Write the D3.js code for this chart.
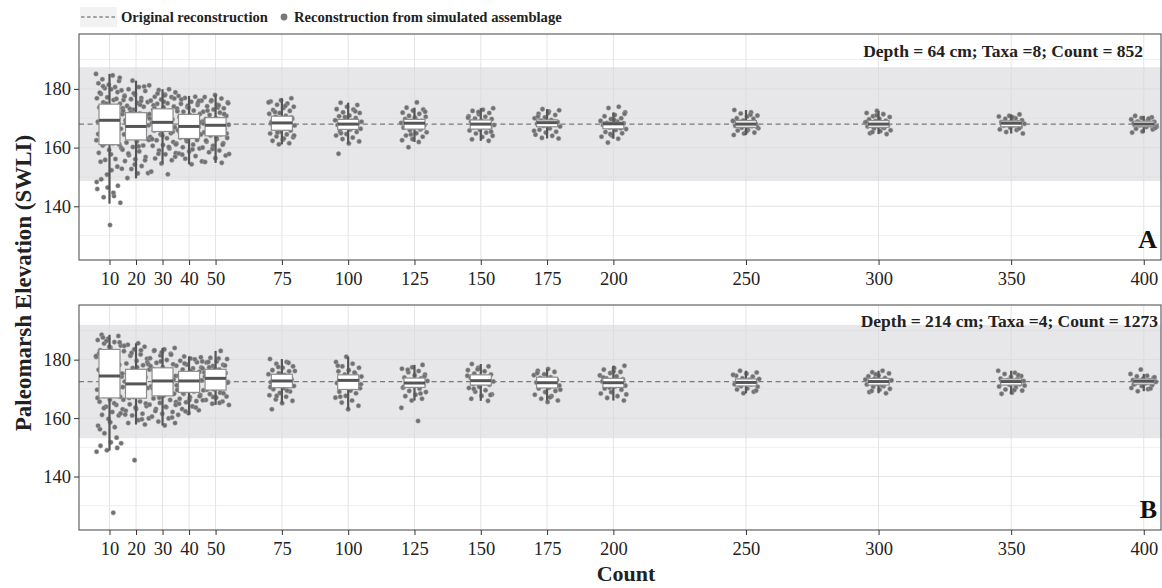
<!DOCTYPE html>
<html>
<head>
<meta charset="utf-8">
<script src="https://cdn.jsdelivr.net/npm/d3@7"></script>
<style>
  html, body { margin: 0; padding: 0; background: #ffffff; overflow: hidden; }
  svg { display: block; font-family: "Liberation Serif", "Times New Roman", serif; }
</style>
</head>
<body>
<svg id="chart" width="1162" height="588"></svg>
<script>
// ---------------- DATA ----------------
const counts = [10, 20, 30, 40, 50, 75, 100, 125, 150, 175, 200, 250, 300, 350, 400];
const yTicks = [140, 160, 180];
const yMinorTicks = [130, 150, 170, 190];

const panelLabels = ["A", "B"];
const panelNotes = ["Depth = 64 cm; Taxa =8; Count = 852", "Depth = 214 cm; Taxa =4; Count = 1273"];
const originalRecon = [168.0, 172.5];
const bandLow = [148.6, 153.1];
const bandHigh = [187.4, 191.9];

// Box statistics, panel A
const aWhiskerLow = [140.9, 149.5, 154.6, 154.3, 154.8, 161.1, 161.4, 161.9, 162.3, 163.1, 163.0, 164.3, 164.6, 164.8, 165.1];
const aQ1 =         [161.0, 162.6, 165.5, 163.1, 164.0, 165.9, 166.2, 166.3, 166.3, 167.1, 166.4, 166.9, 166.9, 167.1, 167.1];
const aMedian =     [169.3, 167.2, 168.6, 167.2, 167.6, 168.4, 168.0, 168.3, 168.0, 168.5, 168.1, 168.0, 168.0, 168.3, 168.0];
const aQ3 =         [174.8, 171.9, 173.2, 171.3, 170.2, 170.7, 169.6, 169.6, 169.4, 169.4, 168.6, 169.2, 169.2, 169.1, 169.0];
const aWhiskerHigh =[185.1, 182.8, 179.9, 177.6, 177.9, 176.8, 175.3, 173.6, 173.4, 173.1, 172.0, 172.8, 172.5, 171.3, 170.8];

// Box statistics, panel B
const bWhiskerLow = [148.9, 157.8, 157.5, 161.1, 164.5, 165.1, 163.0, 166.0, 165.9, 166.0, 166.0, 168.5, 168.5, 168.3, 169.2];
const bQ1 =         [166.9, 166.8, 167.6, 168.8, 169.6, 170.4, 169.8, 170.5, 171.3, 170.3, 170.5, 171.0, 171.3, 171.3, 171.6];
const bMedian =     [174.4, 171.7, 172.7, 172.7, 173.6, 172.7, 172.9, 172.0, 172.8, 172.1, 172.1, 172.2, 172.5, 172.5, 172.6];
const bQ3 =         [183.5, 176.7, 177.2, 176.0, 176.7, 175.0, 174.8, 173.7, 174.8, 174.0, 173.6, 173.4, 173.6, 173.4, 173.4];
const bWhiskerHigh =[188.5, 185.6, 184.0, 181.1, 183.0, 180.2, 181.0, 178.2, 178.5, 176.8, 177.9, 176.2, 176.2, 176.2, 175.1];

// Simulated-assemblage reconstructions, panel A, one list per count
const aPoints = [
  [185.1,184.6,183.3,182.7,181.4,181.9,180.6,180.2,179.5,179.9,178.3,178.9,177.1,176.8,176.2,175.4,174.9,174.1,173.7,172.7,172.2,171.4,170.6,170.1,169.7,169.0,168.8,167.8,167.3,166.4,165.9,164.8,164.3,163.0,162.5,161.5,160.7,161.0,159.2,158.2,156.1,155.8,152.8,152.3,149.2,147.0,146.4,145.9,143.5,143.1,141.2,133.6,
   178.7,176.6,175.0,173.4,171.9,170.3,168.2,166.1,164.6,162.8,161.3,159.9,157.7,155.2,153.5,150.8,148.3,144.6,180.9,183.8],
  [182.8,181.2,180.6,179.9,179.3,178.0,177.7,176.9,176.5,175.5,175.2,174.2,173.9,172.9,172.5,171.6,171.3,170.4,170.0,169.3,168.9,168.0,167.6,166.9,166.5,165.7,165.3,164.5,164.1,163.4,163.0,162.1,161.7,160.7,160.2,159.3,158.7,157.4,156.8,156.0,155.4,153.7,152.7,151.3,151.2,149.6,
   180.8,178.5,176.2,174.6,173.2,171.0,169.6,168.4,166.2,164.8,162.6,160.4,158.0,155.7,154.2,177.4,175.9,172.0],
  [179.9,179.6,178.8,178.1,177.3,177.2,176.4,176.0,175.1,174.9,174.0,173.7,172.9,172.6,171.8,171.4,170.7,170.3,169.6,169.2,168.4,168.0,167.3,166.9,166.1,165.8,164.9,164.5,163.6,163.2,162.5,161.9,160.9,160.6,159.7,159.0,158.1,157.7,156.3,155.7,154.6,151.8,150.9,
   178.4,176.7,175.6,174.4,172.1,171.0,169.9,168.7,167.1,165.4,164.1,162.9,160.2,157.9,156.9,177.8,173.4],
  [177.6,177.3,176.9,176.0,175.6,174.9,174.5,173.8,173.3,172.6,172.2,171.5,171.1,170.4,170.0,169.2,168.9,168.1,167.8,167.0,166.7,165.9,165.6,164.8,164.5,163.7,163.4,162.6,162.2,161.4,161.0,160.1,159.7,158.7,158.0,157.1,156.2,155.3,154.3,
   176.4,175.2,174.2,172.4,170.7,169.5,168.5,166.2,165.2,163.9,162.9,161.1,159.4,157.6,175.9,173.6],
  [177.9,177.2,176.7,175.8,175.4,174.6,174.1,173.4,173.0,172.2,171.9,171.1,170.8,170.0,169.7,168.9,168.6,167.8,167.5,166.7,166.4,165.6,165.2,164.5,164.1,163.3,162.9,162.0,161.5,160.6,160.0,159.0,158.4,157.3,156.4,155.1,154.8,
   176.1,175.1,173.7,172.6,171.4,169.3,168.2,167.1,166.0,164.8,163.6,162.4,161.0,159.5,157.8,174.4],
  [176.8,176.1,175.7,175.0,174.6,173.9,173.5,172.8,172.5,171.8,171.5,170.8,170.5,169.8,169.5,168.8,168.5,167.8,167.5,166.8,166.5,165.8,165.5,164.8,164.5,163.8,163.5,162.7,162.3,161.5,161.1,
   175.4,174.2,172.1,170.2,169.1,168.2,167.1,165.1,164.1,163.1],
  [175.3,174.5,173.9,173.1,173.0,172.0,171.8,170.9,170.7,170.1,169.9,169.3,169.1,168.6,168.4,167.9,167.7,167.2,167.0,166.4,166.2,165.5,165.3,164.6,164.1,163.4,162.9,162.1,161.4,157.9,172.4,170.4,168.8,166.7,164.9],
  [175.4,173.6,173.0,172.6,171.9,171.5,170.8,170.5,169.9,169.7,169.1,169.0,168.4,168.3,167.8,167.6,167.0,166.8,166.2,165.9,165.2,164.9,164.1,163.7,162.9,162.5,161.9,160.1,172.2,170.2,168.6,166.5,164.5],
  [173.4,172.9,172.5,171.8,171.4,170.7,170.5,169.9,169.7,169.1,168.9,168.4,168.2,167.7,167.5,166.9,166.7,166.1,165.8,165.1,164.8,164.0,163.6,162.8,162.3,172.1,170.2,168.6,167.2,165.4],
  [173.1,172.7,172.3,171.5,171.1,170.3,170.0,169.4,169.2,168.7,168.6,168.1,168.0,167.4,167.2,166.5,166.1,165.4,165.1,164.4,164.0,163.3,163.1,171.8,170.6,168.9,167.6,165.7],
  [173.9,173.5,172.0,171.1,170.7,170.0,169.7,169.1,168.9,168.4,168.3,167.8,167.7,167.1,166.9,166.3,166.0,165.3,164.9,164.1,163.7,163.0,161.7,171.5,169.4,168.1,166.6,164.6],
  [172.8,172.0,171.6,170.9,170.6,170.0,169.8,169.2,169.1,168.6,168.5,168.0,167.9,167.4,167.3,166.8,166.6,166.0,165.8,165.1,164.8,164.3,171.2,168.8,167.1,165.5],
  [172.5,171.8,171.4,170.7,170.4,169.8,169.6,169.1,169.0,168.5,168.4,167.9,167.8,167.3,167.2,166.7,166.5,165.9,165.6,164.9,164.6,171.0,168.7,167.0,165.3],
  [171.3,170.8,170.6,170.0,169.8,169.3,169.2,168.7,168.6,168.2,168.1,167.6,167.5,167.0,166.8,166.2,166.0,165.3,164.8,170.3,168.4,166.5],
  [170.8,170.3,170.1,169.6,169.4,168.9,168.8,168.3,168.2,167.7,167.6,167.1,167.0,166.4,166.2,165.5,165.1,169.9,168.5,166.7]
];

// Simulated-assemblage reconstructions, panel B
const bPoints = [
  [188.5,188.1,187.1,186.7,186.0,185.5,184.8,184.1,183.2,182.6,181.5,180.9,180.0,179.3,178.2,177.6,176.5,175.8,174.8,174.2,173.1,172.5,171.4,170.7,169.7,169.0,168.0,167.3,166.3,165.6,164.5,163.9,163.0,162.1,161.1,160.9,159.7,157.4,156.9,154.8,151.4,151.7,150.5,149.8,149.0,148.5,127.6,
   187.6,185.9,184.4,182.1,179.7,177.0,175.2,173.7,172.0,170.2,168.5,166.9,165.1,163.4,161.6,158.6,156.2,153.3,186.4,181.2],
  [185.6,185.1,184.4,183.5,182.9,181.8,181.3,180.3,179.6,178.7,178.1,177.1,176.6,175.6,175.0,174.0,173.4,172.5,171.9,170.9,170.3,169.4,168.8,167.8,167.2,166.3,165.7,164.7,164.1,163.1,162.5,161.5,160.9,159.9,159.3,158.3,157.8,145.6,
   184.7,183.2,181.5,179.1,177.4,175.3,173.7,172.1,170.6,168.5,166.9,165.0,163.6,161.2,159.6,182.3,178.4],
  [184.0,183.5,183.0,182.0,181.4,180.5,179.9,178.9,178.4,177.4,176.9,175.9,175.3,174.4,173.8,172.8,172.3,171.3,170.8,169.8,169.2,168.3,167.7,166.7,166.2,165.2,164.6,163.7,163.1,162.1,161.5,160.5,159.9,158.8,158.3,157.5,
   183.2,181.7,179.4,177.8,176.2,174.7,173.2,171.7,170.1,168.6,167.0,165.5,163.9,162.4,160.2,182.5],
  [181.1,180.8,180.4,179.6,179.1,178.3,177.9,177.0,176.6,175.8,175.4,174.5,174.1,173.3,172.9,172.1,171.6,170.8,170.4,169.6,169.1,168.3,167.9,167.1,166.6,165.8,165.4,164.5,164.0,163.1,162.7,161.7,161.1,
   180.1,178.7,177.3,176.1,174.8,173.6,172.5,171.2,170.0,168.7,167.5,166.2,164.9,163.6,162.3,179.4],
  [183.0,180.6,180.2,179.4,179.0,178.2,177.8,177.0,176.6,175.8,175.4,174.6,174.2,173.5,173.1,172.3,171.9,171.1,170.7,169.9,169.5,168.7,168.2,167.4,167.0,166.2,165.7,164.9,164.5,
   180.4,179.2,178.0,176.8,175.6,174.4,173.3,172.1,170.9,169.7,168.5,167.2,166.1,165.2,177.4],
  [180.2,179.2,178.6,177.7,177.2,176.4,176.0,175.3,175.0,174.3,174.0,173.3,173.0,172.3,172.0,171.3,171.0,170.3,169.9,169.1,168.6,167.8,167.3,166.4,165.9,165.1,163.0,
   178.9,177.5,176.1,174.7,173.6,172.6,171.6,170.6,169.4,167.6],
  [181.0,179.2,178.6,177.7,177.2,176.4,176.0,175.2,174.9,174.2,173.9,173.2,173.0,172.3,172.0,171.3,171.0,170.2,169.8,169.0,168.5,167.6,167.0,166.0,165.3,164.2,163.0,177.9,175.6,173.5,171.6,169.4,167.3],
  [178.2,177.4,176.9,176.1,175.7,174.9,174.6,173.9,173.6,172.9,172.7,172.1,171.9,171.3,171.1,170.4,170.1,169.3,168.9,168.0,167.5,166.6,166.0,163.5,159.0,176.5,174.2,172.4,170.7,168.4],
  [178.5,177.7,177.2,176.4,176.0,175.2,174.9,174.2,173.9,173.3,173.1,172.5,172.3,171.7,171.4,170.7,170.3,169.5,169.0,168.1,167.6,166.6,165.9,176.7,174.5,172.0,170.0,167.9],
  [176.8,176.2,175.8,175.0,174.7,174.0,173.7,173.0,172.8,172.2,172.0,171.4,171.1,170.4,170.1,169.3,168.9,168.0,167.5,166.6,166.0,165.5,175.4,173.3,171.7,169.7,167.1],
  [177.9,177.1,176.6,175.8,175.4,174.6,174.3,173.6,173.3,172.7,172.5,171.9,171.7,171.1,170.8,170.1,169.7,168.9,168.4,167.5,166.9,166.0,176.0,173.9,172.2,170.4,168.1],
  [176.2,175.6,175.2,174.5,174.2,173.6,173.4,172.8,172.7,172.2,172.1,171.6,171.5,170.9,170.7,170.1,169.8,169.0,168.5,174.8,173.1,171.3,169.4],
  [176.2,175.7,175.3,174.6,174.3,173.7,173.5,172.9,172.8,172.3,172.2,171.7,171.5,170.9,170.7,170.0,169.7,168.9,168.5,175.0,173.2,171.2,169.3],
  [176.2,175.5,175.1,174.4,174.1,173.5,173.3,172.8,172.7,172.2,172.1,171.6,171.4,170.8,170.5,169.8,169.4,168.7,168.3,174.7,173.0,171.1,169.6],
  [176.6,175.1,174.5,174.3,173.7,173.5,173.0,172.9,172.5,172.4,171.9,171.8,171.2,171.0,170.3,169.9,169.2,174.0,172.7,171.5,170.1]
];

const legendLineLabel = "Original reconstruction";
const legendPointLabel = "Reconstruction from simulated assemblage";
const xTitle = "Count";
const yTitle = "Paleomarsh Elevation (SWLI)";

// ---------------- DRAWING ----------------
const svg = d3.select("#chart");
const W = 1162, H = 588;
svg.append("rect").attr("width", W).attr("height", H).attr("fill", "#ffffff");

const plotLeft = 79, plotRight = 1161;
const x = d3.scaleLinear().domain([-1.5, 406.5]).range([plotLeft, plotRight]);

const panels = [
  { top: 34, bottom: 260, wl: aWhiskerLow, q1: aQ1, med: aMedian, q3: aQ3, wh: aWhiskerHigh, pts: aPoints, noteRight: 1143, noteY: 56.5 },
  { top: 305, bottom: 530, wl: bWhiskerLow, q1: bQ1, med: bMedian, q3: bQ3, wh: bWhiskerHigh, pts: bPoints, noteRight: 1158, noteY: 327 }
];

const boxHalf = 10.5;     // px
const jitterHalf = 13.5;  // px

panels.forEach((p, pi) => {
  const y = d3.scaleLinear().domain([121.7, 198.7]).range([p.bottom, p.top]);
  const g = svg.append("g");
  const clipId = "clip" + pi;
  svg.append("clipPath").attr("id", clipId)
    .append("rect").attr("x", plotLeft).attr("y", p.top).attr("width", plotRight - plotLeft).attr("height", p.bottom - p.top);
  const inner = g.append("g").attr("clip-path", `url(#${clipId})`);

  // minor grid
  inner.selectAll(".ymin").data(yMinorTicks).join("line")
    .attr("x1", plotLeft).attr("x2", plotRight)
    .attr("y1", d => y(d)).attr("y2", d => y(d))
    .attr("stroke", "#efefef").attr("stroke-width", 1);
  // major grid
  inner.selectAll(".ymaj").data(yTicks).join("line")
    .attr("x1", plotLeft).attr("x2", plotRight)
    .attr("y1", d => y(d)).attr("y2", d => y(d))
    .attr("stroke", "#e4e4e4").attr("stroke-width", 1);
  inner.selectAll(".xmaj").data(counts).join("line")
    .attr("x1", d => x(d)).attr("x2", d => x(d))
    .attr("y1", p.top).attr("y2", p.bottom)
    .attr("stroke", "#e4e4e4").attr("stroke-width", 1);

  // band
  inner.append("rect")
    .attr("x", plotLeft).attr("width", plotRight - plotLeft)
    .attr("y", y(bandHigh[pi])).attr("height", y(bandLow[pi]) - y(bandHigh[pi]))
    .attr("fill", "#d8d9dd").attr("fill-opacity", 0.62);

  // original reconstruction line
  inner.append("line")
    .attr("x1", plotLeft).attr("x2", plotRight)
    .attr("y1", y(originalRecon[pi])).attr("y2", y(originalRecon[pi]))
    .attr("stroke", "#7a7a7a").attr("stroke-width", 1.3)
    .attr("stroke-dasharray", "5,3.6");

  // points (jittered horizontally)
  counts.forEach((c, ci) => {
    const vals = p.pts[ci];
    inner.append("g").selectAll("circle").data(vals).join("circle")
      .attr("cx", (d, i) => x(c) + (((i * 0.6180339887 + ci * 0.37 + pi * 0.21) % 1) - 0.5) * 2 * jitterHalf)
      .attr("cy", d => y(d))
      .attr("r", 2.3)
      .attr("fill", "#707070")
      .attr("stroke", "#a5a5a5").attr("stroke-width", 0.5);
  });

  // boxes
  counts.forEach((c, ci) => {
    const cx = x(c);
    inner.append("line").attr("x1", cx).attr("x2", cx)
      .attr("y1", y(p.wh[ci])).attr("y2", y(p.q3[ci]))
      .attr("stroke", "#555").attr("stroke-width", 2.2);
    inner.append("line").attr("x1", cx).attr("x2", cx)
      .attr("y1", y(p.q1[ci])).attr("y2", y(p.wl[ci]))
      .attr("stroke", "#555").attr("stroke-width", 2.2);
    inner.append("rect")
      .attr("x", cx - boxHalf).attr("width", boxHalf * 2)
      .attr("y", y(p.q3[ci])).attr("height", y(p.q1[ci]) - y(p.q3[ci]))
      .attr("fill", "#ffffff").attr("stroke", "#8e8e8e").attr("stroke-width", 1.2);
    inner.append("line").attr("x1", cx - boxHalf).attr("x2", cx + boxHalf)
      .attr("y1", y(p.med[ci])).attr("y2", y(p.med[ci]))
      .attr("stroke", "#555").attr("stroke-width", 3);
  });

  // panel border
  g.append("rect").attr("x", plotLeft).attr("y", p.top)
    .attr("width", plotRight - plotLeft).attr("height", p.bottom - p.top)
    .attr("fill", "none").attr("stroke", "#555").attr("stroke-width", 1.1);

  // axes
  const yAxis = d3.axisLeft(y).tickValues(yTicks).tickSize(5).tickPadding(3).tickFormat(d3.format("d"));
  const ya = g.append("g").attr("transform", `translate(${plotLeft},0)`).call(yAxis);
  ya.select(".domain").remove();
  ya.selectAll("line").attr("stroke", "#333");
  ya.selectAll("text").attr("font-size", 18.5).attr("fill", "#222").attr("font-family", "Liberation Serif");

  const xAxis = d3.axisBottom(x).tickValues(counts).tickSize(5).tickPadding(7).tickFormat(d3.format("d"));
  const xa = g.append("g").attr("transform", `translate(0,${p.bottom})`).call(xAxis);
  xa.select(".domain").remove();
  xa.selectAll("line").attr("stroke", "#333");
  xa.selectAll("text").attr("font-size", 18.5).attr("fill", "#222").attr("font-family", "Liberation Serif");

  // annotations
  g.append("text").attr("x", p.noteRight).attr("y", p.noteY)
    .attr("text-anchor", "end").attr("font-size", 17.5).attr("font-weight", "bold").attr("fill", "#222")
    .text(panelNotes[pi]);
  g.append("text").attr("x", 1157).attr("y", p.bottom - 12)
    .attr("text-anchor", "end").attr("font-size", 26).attr("font-weight", "bold").attr("fill", "#111")
    .text(panelLabels[pi]);
});

// legend
const lg = svg.append("g");
lg.append("rect").attr("x", 80).attr("y", 7).attr("width", 37).attr("height", 20).attr("fill", "#f2f2f2");
lg.append("line").attr("x1", 81).attr("x2", 116).attr("y1", 17).attr("y2", 17)
  .attr("stroke", "#555").attr("stroke-width", 1.1).attr("stroke-dasharray", "3.5,2.6");
lg.append("text").attr("x", 121).attr("y", 22).attr("font-size", 14.6).attr("font-weight", "bold").attr("fill", "#222")
  .text(legendLineLabel);
lg.append("circle").attr("cx", 284).attr("cy", 17).attr("r", 3.4).attr("fill", "#777");
lg.append("text").attr("x", 294).attr("y", 22).attr("font-size", 14.6).attr("font-weight", "bold").attr("fill", "#222")
  .text(legendPointLabel);

// axis titles
svg.append("text").attr("x", 626).attr("y", 581).attr("text-anchor", "middle")
  .attr("font-size", 22).attr("font-weight", "bold").attr("fill", "#222").text(xTitle);
svg.append("text").attr("transform", "translate(31,283) rotate(-90)").attr("text-anchor", "middle")
  .attr("font-size", 23).attr("font-weight", "bold").attr("fill", "#222").text(yTitle);
</script>
</body>
</html>
